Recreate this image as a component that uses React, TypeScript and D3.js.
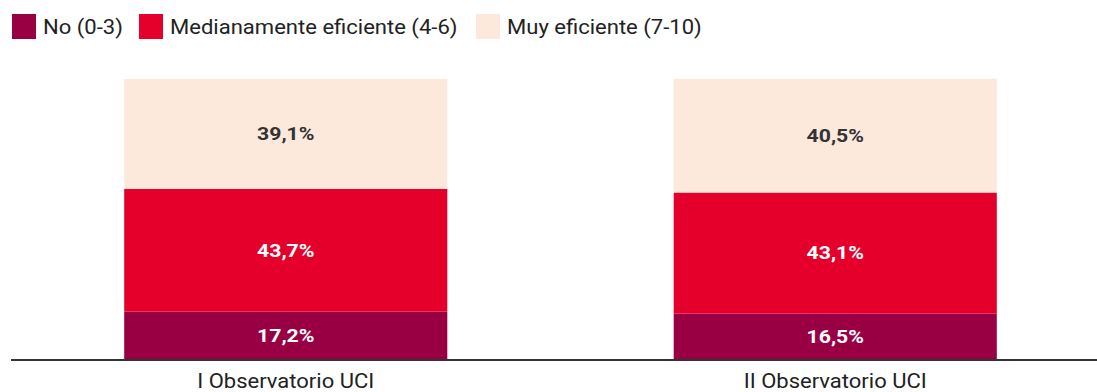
import * as d3 from "d3";

const categories = ["I Observatorio UCI", "II Observatorio UCI"];
const seriesNames = ["No (0-3)", "Medianamente eficiente (4-6)", "Muy eficiente (7-10)"];
const noValues = [17.2, 16.5];
const medValues = [43.7, 43.1];
const muyValues = [39.1, 40.5];
const colors = ["#990043", "#e4002b", "#fde9dc"];
const labelColors = ["#ffffff", "#ffffff", "#333333"];

const width = 1097;
const height = 392;
const font = "Roboto, 'Noto Sans', sans-serif";

const App = () => {
  const x = d3
    .scaleBand()
    .domain(categories)
    .range([11, 1110])
    .paddingInner(0.412)
    .paddingOuter(0.206);
  const y = d3.scaleLinear().domain([0, 100]).range([360, 79]);

  const rows = categories.map((c, i) => ({
    cat: c,
    no: noValues[i],
    med: medValues[i],
    muy: muyValues[i],
  }));
  const stacked = d3.stack().keys(["no", "med", "muy"])(rows);
  const fmt = (v) => v.toFixed(1).replace(".", ",") + "%";

  const legendX = [12, 139, 476];

  return (
    <svg
      width={width}
      height={height}
      style={{ position: "absolute", left: 0, top: 0, background: "#fff" }}
    >
      {seriesNames.map((name, i) => (
        <g key={name} transform={`translate(${legendX[i]}, 14)`}>
          <rect width={24} height={25} fill={colors[i]} />
          <text
            transform="translate(31, 12.5) scale(1.05, 1)"
            dy="0.35em"
            fontFamily={font}
            fontSize={21}
            fill="#222"
          >
            {name}
          </text>
        </g>
      ))}
      {stacked.map((s, si) =>
        s.map((d) => (
          <g key={`${si}-${d.data.cat}`}>
            <rect
              x={x(d.data.cat)}
              y={y(d[1])}
              width={x.bandwidth()}
              height={y(d[0]) - y(d[1])}
              fill={colors[si]}
            />
            <text
              transform={`translate(${x(d.data.cat) + x.bandwidth() / 2}, ${
                (y(d[0]) + y(d[1])) / 2
              }) scale(1.18, 1)`}
              dy="0.35em"
              textAnchor="middle"
              fontFamily={font}
              fontWeight="bold"
              fontSize={18}
              fill={labelColors[si]}
            >
              {fmt(d[1] - d[0])}
            </text>
          </g>
        ))
      )}
      <line x1={11} x2={width} y1={360} y2={360} stroke="#333" strokeWidth={2} />
      {categories.map((c) => (
        <text
          key={c}
          transform={`translate(${x(c) + x.bandwidth() / 2}, 380.5) scale(1.1, 1)`}
          dy="0.35em"
          textAnchor="middle"
          fontFamily={font}
          fontSize={20}
          fill="#222"
        >
          {c}
        </text>
      ))}
    </svg>
  );
};

export default App;
